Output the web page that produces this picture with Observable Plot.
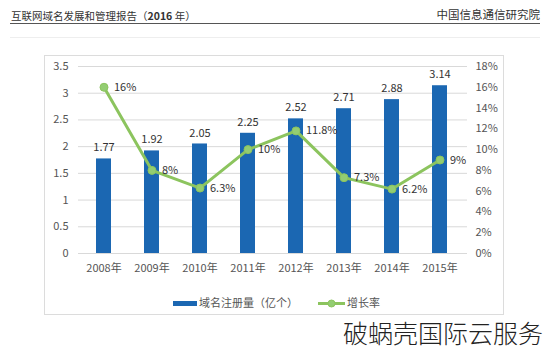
<!DOCTYPE html>
<html><head><meta charset="utf-8">
<script src="https://cdn.jsdelivr.net/npm/d3@7"></script>
<script src="https://cdn.jsdelivr.net/npm/@observablehq/plot@0.6"></script>
<style>
body{margin:0;background:#fff;font-family:"Noto Sans CJK SC","Noto Sans",sans-serif;}
#wrap{position:relative;width:549px;height:353px;overflow:hidden;background:#fff;}
.hdr{position:absolute;top:7px;font-size:11px;color:#333;white-space:nowrap;}
#line1{position:absolute;left:10px;top:23px;width:530px;height:0;border-top:1.5px solid #555;}
#line2{position:absolute;left:10px;top:37px;width:530px;height:0;border-top:1px solid #eee;}
#frame{position:absolute;left:44px;top:55px;width:460px;height:260px;border:1px solid #dcdcdc;box-sizing:border-box;}
#chart{position:absolute;left:0;top:0;}
#legend{position:absolute;top:295px;left:0;width:549px;height:16px;font-size:11px;color:#555;}
#wm{position:absolute;left:343px;top:314px;font-size:25px;color:#222;white-space:nowrap;font-weight:300;letter-spacing:0px;}
</style></head>
<body><div id="wrap">
<div class="hdr" style="left:11px;font-size:10.5px;top:8px">互联网域名发展和管理报告（<b>2016</b> 年）</div>
<div class="hdr" style="right:9px;font-size:11.5px;top:6px">中国信息通信研究院</div>
<div id="line1"></div><div id="line2"></div>
<div id="frame"></div>
<div id="chart"></div>
<div id="legend"></div>
<div id="wm">破蜗壳国际云服务</div>
</div>
<script>
const years = ["2008年","2009年","2010年","2011年","2012年","2013年","2014年","2015年"];
const counts = [1.77,1.92,2.05,2.25,2.52,2.71,2.88,3.14];
const rates = [16,8,6.3,10,11.8,7.3,6.2,9];
const leftTicks = [0,0.5,1,1.5,2,2.5,3,3.5];
const rightTicks = [0,2,4,6,8,10,12,14,16,18];
const seriesNames = ["域名注册量（亿个）","增长率"];

const BLUE = "#1b67b2", GREEN = "#8cc45e";
const maxL = 3.5, maxR = 18;
const toL = p => p / maxR * maxL;
const data = years.map((y,i)=>({year:y, count:counts[i], rate:rates[i]}));
const font = "Noto Sans CJK SC";

const plot = Plot.plot({
  width: 549, height: 290,
  marginLeft: 79, marginRight: 85, marginTop: 66, marginBottom: 37,
  style: {fontFamily: font, fontSize: "11px", color: "#555", background: "transparent"},
  x: {domain: years, paddingInner: 0.69, paddingOuter: 0.345, axis: null},
  y: {domain: [0, maxL], axis: null},
  marks: [
    Plot.ruleY(leftTicks, {stroke: "#d9d9d9", strokeWidth: 1, insetLeft: -1, insetRight: -3}),
    Plot.barY(data, {x: "year", y: "count", fill: BLUE}),
    Plot.axisX(years, {anchor: "bottom", label: null, tickSize: 0, tickPadding: 11, fontSize: 11, fill: "#555"}),
    Plot.axisY(leftTicks, {anchor: "left", label: null, tickSize: 0, tickPadding: 11, tickFormat: d => String(d), fontSize: 11, fill: "#555"}),
    Plot.axisY(rightTicks.map(toL), {anchor: "right", label: null, tickSize: 0, tickPadding: 11, tickFormat: (d,i) => rightTicks[i] + "%", fontSize: 11, fill: "#555"}),
    Plot.line(data, {x: "year", y: d => toL(d.rate), stroke: GREEN, strokeWidth: 3}),
    Plot.dot(data, {x: "year", y: d => toL(d.rate), r: 4, fill: "#93cd72", stroke: GREEN, strokeWidth: 1}),
    Plot.text(data, {x: "year", y: "count", text: d => d.count.toFixed(2), dy: -11, fontSize: 11, fill: "#333"}),
    Plot.text(data, {x: "year", y: d => toL(d.rate), text: d => d.rate + "%", textAnchor: "start", dx: 10, fontSize: 11, fill: "#333"})
  ]
});
document.getElementById("chart").appendChild(plot);

// legend
const lg = d3.select("#legend").append("svg").attr("width", 549).attr("height", 16)
  .style("font-family", font).style("font-size", "11px");
lg.append("rect").attr("x", 173).attr("y", 6).attr("width", 24).attr("height", 5).attr("fill", BLUE);
lg.append("text").attr("x", 199).attr("y", 8.5).attr("dy", "0.35em").attr("fill", "#555").text(seriesNames[0]);
lg.append("line").attr("x1", 318).attr("x2", 345).attr("y1", 8.5).attr("y2", 8.5).attr("stroke", GREEN).attr("stroke-width", 3);
lg.append("circle").attr("cx", 331.5).attr("cy", 8.5).attr("r", 3.5).attr("fill", "#93cd72").attr("stroke", GREEN);
lg.append("text").attr("x", 347).attr("y", 8.5).attr("dy", "0.35em").attr("fill", "#555").text(seriesNames[1]);
</script>
</body></html>
